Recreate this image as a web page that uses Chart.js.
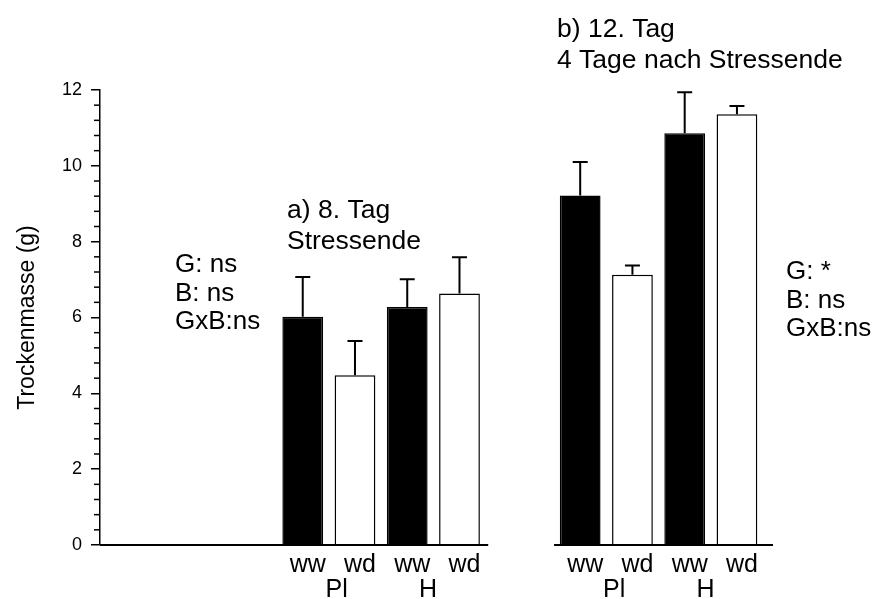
<!DOCTYPE html>
<html>
<head>
<meta charset="utf-8">
<script src="https://cdn.jsdelivr.net/npm/chart.js@4"></script>
<style>
  body { margin: 0; background: #fff; }
</style>
</head>
<body>
<canvas id="chart" width="876" height="599"></canvas>
<script>
// Données
const arrayCategories = ['ww', 'wd', 'ww', 'wd']
const arrayGroups = ['Pl', 'H']
const arrayDay8 = [6.02, 4.48, 6.28, 6.63]
const arrayDay8Err = [1.05, 0.90, 0.73, 0.96]
const arrayDay12 = [9.22, 7.13, 10.86, 11.36]
const arrayDay12Err = [0.88, 0.24, 1.08, 0.22]
const arrayYTicks = [0, 2, 4, 6, 8, 10, 12]
const arrayStatsDay8 = ['G: ns', 'B: ns', 'GxB:ns']
const arrayStatsDay12 = ['G: *', 'B: ns', 'GxB:ns']

const FONT = "'Liberation Sans', Arial, sans-serif"
const RIGHT_SHIFT = 1.31   // écart entre les deux panneaux (en largeur de barre)
const X_MIN = -2.88
const X_MAX = 10.0

// Construire les points des barres : panneau a) puis panneau b)
let arrayPoints = []
let arrayErr = []
let arrayColors = []
arrayDay8.forEach((v, i) => {
  arrayPoints.push({x: i + 1, y: v})
  arrayErr.push(arrayDay8Err[i])
  arrayColors.push(i % 2 == 0 ? '#000' : '#fff')
})
arrayDay12.forEach((v, i) => {
  arrayPoints.push({x: i + 5 + RIGHT_SHIFT, y: v})
  arrayErr.push(arrayDay12Err[i])
  arrayColors.push(i % 2 == 0 ? '#000' : '#fff')
})

function DrawLines(ctx, lines, x, y, step, size){
  ctx.font = size + 'px ' + FONT
  ctx.textAlign = 'left'
  ctx.textBaseline = 'alphabetic'
  lines.forEach((t, i) => ctx.fillText(t, x, y + i * step))
}

const decor = {
  id: 'decor',
  afterDatasetsDraw(chart){
    const ctx = chart.ctx
    const xs = chart.scales.x
    const ys = chart.scales.y
    const y0 = ys.getPixelForValue(0)
    ctx.save()
    ctx.strokeStyle = '#000'
    ctx.fillStyle = '#000'
    // petites graduations
    ctx.lineWidth = 1.5
    for (let k = 0; k <= 30; k++){
      if (k % 5 == 0) continue
      const py = ys.getPixelForValue(k * 0.4)
      ctx.beginPath()
      ctx.moveTo(xs.left - 6, py)
      ctx.lineTo(xs.left, py)
      ctx.stroke()
    }
    // lignes de base des deux panneaux
    ctx.lineWidth = 2
    ctx.beginPath()
    ctx.moveTo(xs.getPixelForValue(X_MIN), y0)
    ctx.lineTo(xs.getPixelForValue(4.55), y0)
    ctx.moveTo(xs.getPixelForValue(5.81), y0)
    ctx.lineTo(xs.getPixelForValue(X_MAX), y0)
    ctx.stroke()
    // barres d'erreur (vers le haut seulement)
    const meta = chart.getDatasetMeta(0)
    meta.data.forEach((bar, i) => {
      const v = arrayPoints[i].y
      const top = ys.getPixelForValue(v)
      const cap = ys.getPixelForValue(v + arrayErr[i])
      ctx.lineWidth = 2
      ctx.beginPath()
      ctx.moveTo(bar.x, top)
      ctx.lineTo(bar.x, cap)
      ctx.moveTo(bar.x - 7.5, cap)
      ctx.lineTo(bar.x + 7.5, cap)
      ctx.stroke()
    })
    // étiquettes ww / wd et Pl / H
    ctx.font = '25px ' + FONT
    ctx.textAlign = 'center'
    ctx.textBaseline = 'alphabetic'
    meta.data.forEach((bar, i) => {
      ctx.fillText(arrayCategories[i % 4], bar.x + 5, 572)
    })
    ;[1, 5 + RIGHT_SHIFT].forEach(start => {
      ctx.fillText(arrayGroups[0], xs.getPixelForValue(start + 0.65), 597)
      ctx.fillText(arrayGroups[1], xs.getPixelForValue(start + 2.4), 597)
    })
    // titres et statistiques
    DrawLines(ctx, ['a) 8. Tag', 'Stressende'], 287, 218, 31, 26.5)
    DrawLines(ctx, ['b) 12. Tag', '4 Tage nach Stressende'], 557, 37, 31, 26.5)
    DrawLines(ctx, arrayStatsDay8, 175, 272, 28.5, 26)
    DrawLines(ctx, arrayStatsDay12, 786, 279, 28.5, 26)
    ctx.restore()
  }
}

const config = {
  type: 'bar',
  data: {
    datasets: [{
      data: arrayPoints,
      backgroundColor: arrayColors,
      borderColor: '#000',
      borderWidth: 1.5,
      categoryPercentage: 1,
      barPercentage: 0.78
    }]
  },
  options: {
    responsive: false,
    animation: false,
    layout: { padding: { top: 90, right: 103, bottom: 0, left: 0 } },
    plugins: {
      legend: { display: false },
      tooltip: { enabled: false }
    },
    scales: {
      x: {
        type: 'linear',
        offset: false,
        min: X_MIN,
        max: X_MAX,
        grid: { display: false },
        border: { display: false },
        ticks: { display: false },
        afterFit: s => { s.height = 54 }
      },
      y: {
        min: 0,
        max: 12,
        afterBuildTicks: s => { s.ticks = arrayYTicks.map(v => ({value: v})) },
        ticks: { color: '#000', padding: 9, font: { family: FONT, size: 18 } },
        grid: { drawOnChartArea: false, color: '#000', lineWidth: 1.5, tickLength: 9 },
        border: { color: '#000', width: 1.5 },
        title: {
          display: true,
          text: 'Trockenmasse (g)',
          color: '#000',
          font: { family: FONT, size: 23 },
          padding: { top: 14, bottom: 0 }
        },
        afterFit: s => { s.width = 100 }
      }
    }
  },
  plugins: [decor]
}

new Chart(document.getElementById('chart').getContext('2d'), config)
</script>
</body>
</html>
